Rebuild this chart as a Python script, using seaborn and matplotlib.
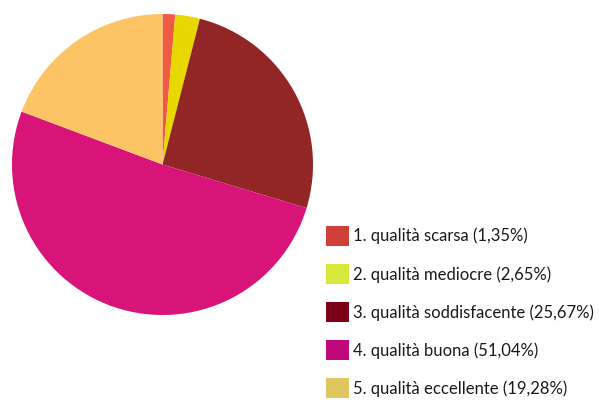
import matplotlib
matplotlib.use("Agg")
import matplotlib.pyplot as plt
from matplotlib.patches import Patch
import seaborn as sns

# data
labels = ["1. qualità scarsa (1,35%)",
          "2. qualità mediocre (2,65%)",
          "3. qualità soddisfacente (25,67%)",
          "4. qualità buona (51,04%)",
          "5. qualità eccellente (19,28%)"]
shares = [1.35, 2.65, 25.67, 51.04, 19.28]

# slice colours and (slightly different) legend colours
pie_colors = ["#f05a40", "#e8d800", "#922626", "#d81478", "#fdc466"]
legend_colors = ["#d04038", "#d8e83a", "#7c0018", "#c0087a", "#e0c660"]

sns.set_theme(style="white")
plt.rcParams["font.family"] = ["Lato", "DejaVu Sans"]

fig = plt.figure(figsize=(5.99, 4.0), dpi=100)
# pie axes placed so the circle sits at the left
ax = fig.add_axes([12 / 599, 85 / 400, 301 / 599, 301 / 400])
ax.pie(shares, colors=pie_colors, startangle=90, counterclock=False,
       radius=1.0, wedgeprops=dict(linewidth=0))
ax.set_xlim(-1, 1)
ax.set_ylim(-1, 1)
ax.set_aspect("equal")
ax.axis("off")

handles = [Patch(facecolor=c, edgecolor="none") for c in legend_colors]
fig.legend(handles, labels, loc="upper left",
           bbox_to_anchor=(326 / 599, 1 - 226 / 400),
           frameon=False, fontsize=12, handlelength=1.35, handleheight=1.45,
           handletextpad=0.25, labelspacing=1.1, borderpad=0, borderaxespad=0,
           labelcolor="#1a1a1a")

fig.savefig("out.png", dpi=100)
